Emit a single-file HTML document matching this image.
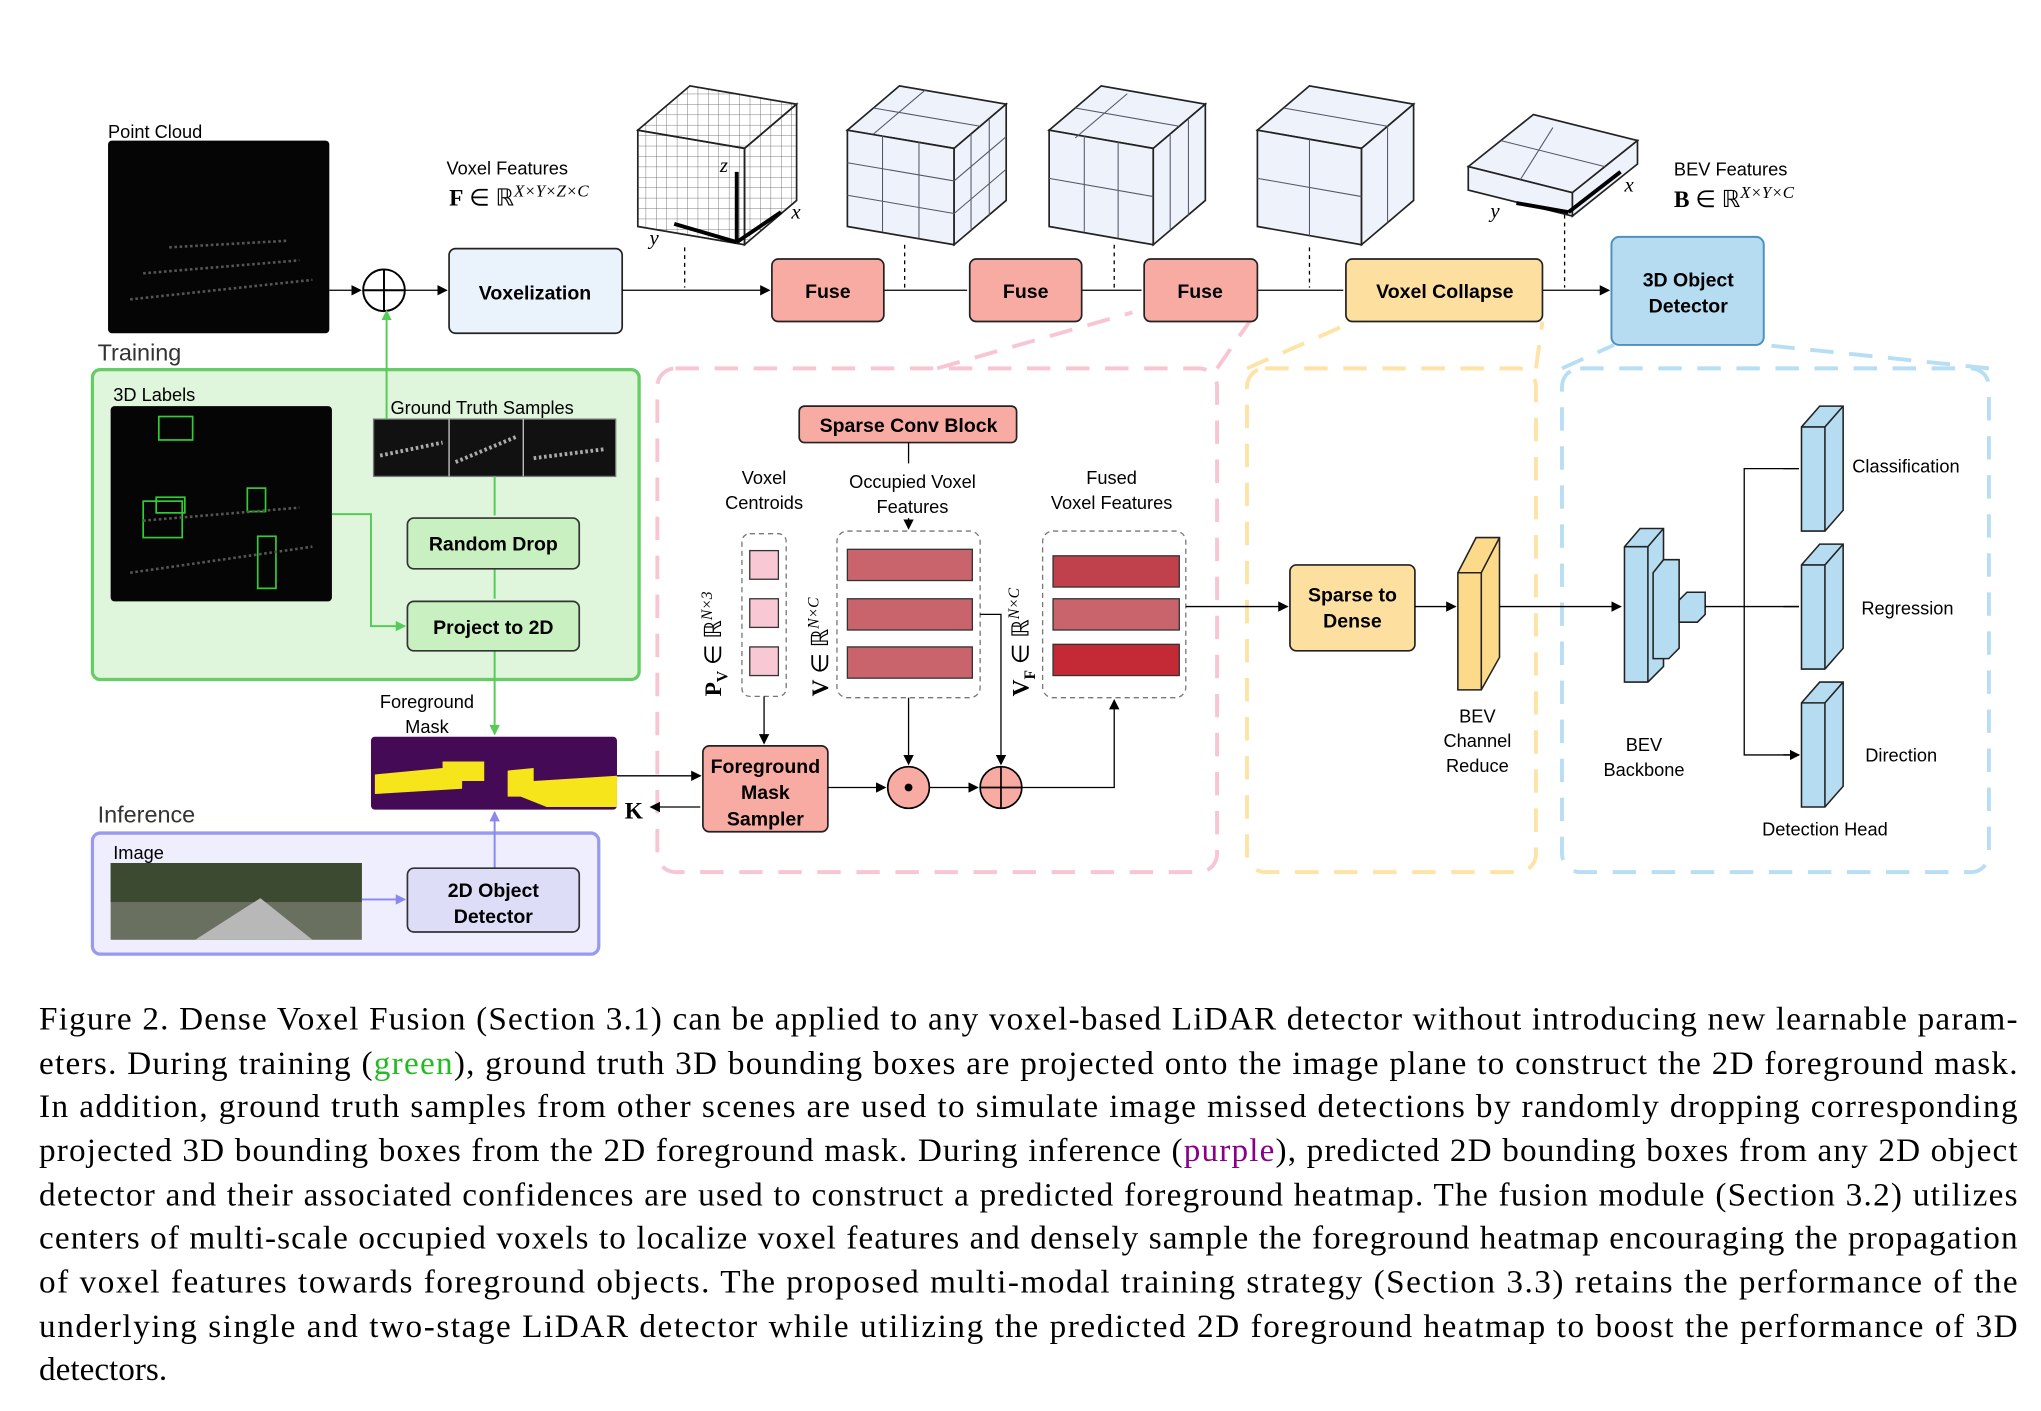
<!DOCTYPE html>
<html><head><meta charset="utf-8"><style>
html,body{margin:0;padding:0;background:#fff;}
svg{display:block}
.s{font-family:"Liberation Sans",sans-serif;}
.b{font-family:"Liberation Sans",sans-serif;font-weight:bold;font-size:15px;}
.cap{font-family:"Liberation Serif",serif;font-size:25.5px;}
</style></head><body>
<svg width="2041" height="1411" viewBox="0 0 1568 1084" xmlns="http://www.w3.org/2000/svg">
<defs>
<marker id="a" markerWidth="8" markerHeight="8" refX="7" refY="4" orient="auto" markerUnits="userSpaceOnUse"><path d="M0,0 L8,4 L0,8 z" fill="#000"/></marker>
<marker id="ag" markerWidth="8" markerHeight="8" refX="7" refY="4" orient="auto" markerUnits="userSpaceOnUse"><path d="M0,0 L8,4 L0,8 z" fill="#5c5"/></marker>
<marker id="ap" markerWidth="8" markerHeight="8" refX="7" refY="4" orient="auto" markerUnits="userSpaceOnUse"><path d="M0,0 L8,4 L0,8 z" fill="#88e"/></marker>
<pattern id="g" width="8" height="8" patternUnits="userSpaceOnUse"><path d="M8,0 L0,0 0,8" fill="none" stroke="#555" stroke-width="0.6"/></pattern>
</defs>
<!-- dashed regions -->
<rect x="505" y="283" width="430" height="387" rx="14" fill="none" stroke="#f7c6d2" stroke-width="3" stroke-dasharray="18,12"/>
<rect x="958" y="283" width="222" height="387" rx="14" fill="none" stroke="#fde3a5" stroke-width="3" stroke-dasharray="18,12"/>
<rect x="1200" y="283" width="328" height="387" rx="14" fill="none" stroke="#b8def3" stroke-width="3" stroke-dasharray="18,12"/>
<path d="M720,283 L870,240" stroke="#f7c6d2" stroke-width="3" stroke-dasharray="18,12"/>
<path d="M935,283 L960,247" stroke="#f7c6d2" stroke-width="3" stroke-dasharray="18,12"/>
<path d="M958,283 L1040,247 M1180,283 L1185,247" stroke="#fde3a5" stroke-width="3" stroke-dasharray="18,12"/>
<path d="M1200,283 L1240,265 M1528,283 L1355,265" stroke="#b8def3" stroke-width="3" stroke-dasharray="18,12"/>
<!-- point cloud -->
<text x="83" y="106" class="s" font-size="14">Point Cloud</text>
<rect x="83" y="108" width="170" height="148" rx="3" fill="#050505"/>
<path d="M100,230 L240,215 M110,210 L230,200 M130,190 L220,185" stroke="#555" stroke-width="2" stroke-dasharray="2,2"/>
<circle cx="295" cy="223" r="16" fill="#fff" stroke="#000" stroke-width="1.5"/>
<path d="M279,223 H311 M295,207 V239" stroke="#000" stroke-width="1.5"/>
<path d="M253,223 H277" stroke="#000" marker-end="url(#a)"/>
<path d="M311,223 H343" stroke="#000" marker-end="url(#a)"/>
<rect x="345" y="191" width="133" height="65" rx="5" fill="#eaf2fb" stroke="#222" stroke-width="1.3"/>
<text x="411" y="230" class="b" text-anchor="middle">Voxelization</text>
<text x="343" y="134" class="s" font-size="14">Voxel Features</text>
<text x="345" y="158" font-family="Liberation Serif,serif" font-size="18"><tspan font-weight="bold">F</tspan> ∈ ℝ<tspan font-style="italic" font-size="13" dy="-7">X×Y×Z×C</tspan></text>
<path d="M478,223 H591" stroke="#000" marker-end="url(#a)"/>
<path d="M679,223 H743 M831,223 H877 M966,223 H1032 M1185,223 H1236" stroke="#000" marker-end="url(#a)"/>
<g fill="#f8aba2" stroke="#222" stroke-width="1.3">
<rect x="593" y="199" width="86" height="48" rx="5"/><rect x="745" y="199" width="86" height="48" rx="5"/><rect x="879" y="199" width="87" height="48" rx="5"/></g>
<text x="636" y="229" class="b" text-anchor="middle">Fuse</text>
<text x="788" y="229" class="b" text-anchor="middle">Fuse</text>
<text x="922" y="229" class="b" text-anchor="middle">Fuse</text>
<rect x="1034" y="199" width="151" height="48" rx="5" fill="#fde0a0" stroke="#222" stroke-width="1.3"/>
<text x="1110" y="229" class="b" text-anchor="middle">Voxel Collapse</text>
<rect x="1238" y="182" width="117" height="83" rx="6" fill="#b5dcf0" stroke="#4a90c0" stroke-width="1.5"/>
<text x="1297" y="220" class="b" text-anchor="middle">3D Object</text>
<text x="1297" y="240" class="b" text-anchor="middle">Detector</text>
<text x="1286" y="135" class="s" font-size="14">BEV Features</text>
<text x="1286" y="159" font-family="Liberation Serif,serif" font-size="18"><tspan font-weight="bold">B</tspan> ∈ ℝ<tspan font-style="italic" font-size="13" dy="-7">X×Y×C</tspan></text>
<!-- cubes -->
<g stroke="#222" stroke-width="1.3">
<path d="M490,100 L530,66 L612,80 L572,114 Z" fill="url(#g)"/><path d="M490,100 L572,114 L572,188 L490,174 Z" fill="url(#g)"/><path d="M572,114 L612,80 L612,154 L572,188 Z" fill="url(#g)"/>
<path d="M651,100 L691,66 L773,80 L733,114 Z" fill="#eef3fb"/><path d="M651,100 L733,114 L733,188 L651,174 Z" fill="#eef3fb"/><path d="M733,114 L773,80 L773,154 L733,188 Z" fill="#eef3fb"/>
<path d="M806,100 L846,66 L926,80 L886,114 Z" fill="#eef3fb"/><path d="M806,100 L886,114 L886,188 L806,174 Z" fill="#eef3fb"/><path d="M886,114 L926,80 L926,154 L886,188 Z" fill="#eef3fb"/>
<path d="M966,100 L1006,66 L1086,80 L1046,114 Z" fill="#eef3fb"/><path d="M966,100 L1046,114 L1046,188 L966,174 Z" fill="#eef3fb"/><path d="M1046,114 L1086,80 L1086,154 L1046,188 Z" fill="#eef3fb"/>
<path d="M1128,128 L1178,88 L1258,108 L1208,148 Z" fill="#eef3fb"/><path d="M1128,128 L1208,148 L1208,166 L1128,146 Z" fill="#eef3fb"/><path d="M1208,148 L1258,108 L1258,126 L1208,166 Z" fill="#eef3fb"/>
</g>
<g stroke="#556" stroke-width="0.8" fill="none">
<path d="M678,104 V178 M706,109 V183 M651,125 L733,139 M651,150 L733,164 M746,103 V177 M760,92 V166 M733,139 L773,105 M733,164 L773,130 M671,83 L753,97 M711,69 L671,103"/>
<path d="M833,104 V178 M859,109 V183 M806,137 L886,151 M899,103 V177 M913,92 V166 M826,83 L906,97 M866,72 L826,106"/>
<path d="M1006,107 V181 M966,137 L1046,151 M1066,97 V171 M986,83 L1066,97"/>
<path d="M1153,108 L1233,128 M1193,98 L1168,138"/>
</g>
<path d="M566,186 V132 M566,186 L600,163 M566,186 L518,172" stroke="#000" stroke-width="3" fill="none"/>
<text x="553" y="132" font-family="Liberation Serif,serif" font-style="italic" font-size="16">z</text>
<text x="608" y="168" font-family="Liberation Serif,serif" font-style="italic" font-size="16">x</text>
<text x="499" y="188" font-family="Liberation Serif,serif" font-style="italic" font-size="16">y</text>
<path d="M1165,156 L1205,163 M1205,163 L1245,132" stroke="#000" stroke-width="3"/>
<text x="1248" y="147" font-family="Liberation Serif,serif" font-style="italic" font-size="16">x</text>
<text x="1145" y="167" font-family="Liberation Serif,serif" font-style="italic" font-size="16">y</text>
<g stroke="#000" stroke-dasharray="3,3"><path d="M526,190 V221 M695,188 V221 M856,188 V221 M1006,190 V221 M1202,165 V221"/></g>
<!-- training -->
<text x="75" y="277" class="s" font-size="18" fill="#333">Training</text>
<rect x="71" y="284" width="420" height="238" rx="6" fill="#dff5dc" stroke="#66cc66" stroke-width="2.5"/>
<text x="87" y="308" class="s" font-size="14">3D Labels</text>
<rect x="85" y="312" width="170" height="150" rx="3" fill="#050505"/>
<g fill="none" stroke="#3c3" stroke-width="1.3"><rect x="122" y="320" width="26" height="18"/><rect x="110" y="385" width="30" height="28"/><rect x="120" y="382" width="22" height="12"/><rect x="190" y="375" width="14" height="18"/><rect x="198" y="412" width="14" height="40"/></g>
<path d="M100,440 L240,420 M110,400 L230,390" stroke="#555" stroke-width="2" stroke-dasharray="2,2"/>
<text x="300" y="318" class="s" font-size="14">Ground Truth Samples</text>
<rect x="287" y="322" width="186" height="44" fill="#111" stroke="#777"/>
<path d="M345,322 V366 M402,322 V366" stroke="#ccc"/>
<path d="M292,350 L340,340 M350,355 L398,335 M410,352 L465,345" stroke="#aaa" stroke-width="3" stroke-dasharray="2,2"/>
<path d="M297,322 V239" stroke="#5c5" stroke-width="1.5" marker-end="url(#ag)"/>
<path d="M380,366 V396 M380,437 V460 M380,500 V564" stroke="#5c5" stroke-width="1.5" marker-end="url(#ag)"/>
<path d="M255,395 H285 V481 H311" stroke="#5c5" stroke-width="1.5" fill="none" marker-end="url(#ag)"/>
<rect x="313" y="398" width="132" height="39" rx="5" fill="#c8f0c0" stroke="#333" stroke-width="1.3"/>
<text x="379" y="423" class="b" text-anchor="middle">Random Drop</text>
<rect x="313" y="462" width="132" height="38" rx="5" fill="#c8f0c0" stroke="#333" stroke-width="1.3"/>
<text x="379" y="487" class="b" text-anchor="middle">Project to 2D</text>
<text x="328" y="544" class="s" font-size="14" text-anchor="middle">Foreground</text>
<text x="328" y="563" class="s" font-size="14" text-anchor="middle">Mask</text>
<rect x="285" y="566" width="189" height="56" rx="3" fill="#440a55"/>
<path d="M288,595 L340,590 L340,585 L372,585 L372,600 L355,600 L355,606 L288,610 Z M390,592 L410,590 L410,600 L474,596 L474,620 L420,620 L400,612 L390,612 Z" fill="#f5e51a"/>
<path d="M474,596 H538" stroke="#000" marker-end="url(#a)"/>
<path d="M538,620 H500" stroke="#000" marker-end="url(#a)"/>
<text x="480" y="629" font-family="Liberation Serif,serif" font-weight="bold" font-size="18">K</text>
<!-- inference -->
<text x="75" y="632" class="s" font-size="18" fill="#333">Inference</text>
<rect x="71" y="640" width="389" height="93" rx="6" fill="#eeeeff" stroke="#9999ee" stroke-width="2.5"/>
<text x="87" y="660" class="s" font-size="14">Image</text>
<rect x="85" y="663" width="193" height="59" fill="#6a7060"/>
<rect x="85" y="663" width="193" height="30" fill="#3c4a32"/>
<path d="M150,722 L200,690 L240,722 Z" fill="#b8b8b8"/>
<path d="M278,691 H311" stroke="#88e" stroke-width="1.5" marker-end="url(#ap)"/>
<path d="M380,667 V624" stroke="#88e" stroke-width="1.5" marker-end="url(#ap)"/>
<rect x="313" y="667" width="132" height="49" rx="5" fill="#ddddf8" stroke="#333" stroke-width="1.3"/>
<text x="379" y="689" class="b" text-anchor="middle">2D Object</text>
<text x="379" y="709" class="b" text-anchor="middle">Detector</text>
<!-- fusion module -->
<rect x="614" y="312" width="167" height="28" rx="4" fill="#f8aba2" stroke="#222" stroke-width="1.3"/>
<text x="698" y="332" class="b" text-anchor="middle">Sparse Conv Block</text>
<path d="M698,340 V356" stroke="#000"/>
<text x="587" y="372" class="s" font-size="14" text-anchor="middle">Voxel</text>
<text x="587" y="391" class="s" font-size="14" text-anchor="middle">Centroids</text>
<text x="701" y="375" class="s" font-size="14" text-anchor="middle">Occupied Voxel</text>
<text x="701" y="394" class="s" font-size="14" text-anchor="middle">Features</text>
<path d="M698,398 V406" stroke="#000" marker-end="url(#a)"/>
<text x="854" y="372" class="s" font-size="14" text-anchor="middle">Fused</text>
<text x="854" y="391" class="s" font-size="14" text-anchor="middle">Voxel Features</text>
<g fill="none" stroke="#777" stroke-dasharray="4,3"><rect x="570" y="410" width="34" height="125" rx="6"/><rect x="643" y="408" width="110" height="128" rx="8"/><rect x="801" y="408" width="110" height="128" rx="8"/></g>
<g stroke="#333" fill="#f8c8d4"><rect x="576" y="423" width="22" height="22"/><rect x="576" y="460" width="22" height="22"/><rect x="576" y="497" width="22" height="22"/></g>
<g stroke="#333" fill="#c9646c"><rect x="651" y="422" width="96" height="24"/><rect x="651" y="460" width="96" height="24"/><rect x="651" y="497" width="96" height="24"/></g>
<g stroke="#333"><rect x="809" y="427" width="97" height="24" fill="#c0404c"/><rect x="809" y="460" width="97" height="24" fill="#c9646c"/><rect x="809" y="495" width="97" height="24" fill="#c42a35"/></g>
<g font-family="Liberation Serif,serif" font-size="18" font-weight="bold">
<text transform="translate(554,535) rotate(-90)">P<tspan font-size="12" dy="5">V</tspan><tspan dy="-5" font-weight="normal"> ∈ ℝ</tspan><tspan font-size="12" dy="-7" font-style="italic" font-weight="normal">N×3</tspan></text>
<text transform="translate(636,535) rotate(-90)">V<tspan font-weight="normal"> ∈ ℝ</tspan><tspan font-size="12" dy="-7" font-style="italic" font-weight="normal">N×C</tspan></text>
<text transform="translate(790,535) rotate(-90)">V<tspan font-size="12" dy="5">F</tspan><tspan dy="-5" font-weight="normal"> ∈ ℝ</tspan><tspan font-size="12" dy="-7" font-style="italic" font-weight="normal">N×C</tspan></text>
</g>
<path d="M587,535 V571" stroke="#000" marker-end="url(#a)"/>
<rect x="540" y="573" width="96" height="66" rx="5" fill="#f8aba2" stroke="#222" stroke-width="1.3"/>
<text x="588" y="594" class="b" text-anchor="middle">Foreground</text>
<text x="588" y="614" class="b" text-anchor="middle">Mask</text>
<text x="588" y="634" class="b" text-anchor="middle">Sampler</text>
<path d="M636,605 H680" stroke="#000" marker-end="url(#a)"/>
<circle cx="698" cy="605" r="16" fill="#f8aba2" stroke="#000" stroke-width="1.3"/><circle cx="698" cy="605" r="3" fill="#000"/>
<path d="M698,536 V587" stroke="#000" marker-end="url(#a)"/>
<path d="M714,605 H751" stroke="#000" marker-end="url(#a)"/>
<circle cx="769" cy="605" r="16" fill="#f8aba2" stroke="#000" stroke-width="1.3"/><path d="M753,605 H785 M769,589 V621" stroke="#000" stroke-width="1.3"/>
<path d="M753,472 H769 V587" stroke="#000" fill="none" marker-end="url(#a)"/>
<path d="M785,605 H856 V538" stroke="#000" fill="none" marker-end="url(#a)"/>
<path d="M911,466 H989" stroke="#000" marker-end="url(#a)"/>
<!-- yellow -->
<rect x="991" y="434" width="96" height="66" rx="5" fill="#fde0a0" stroke="#222" stroke-width="1.3"/>
<text x="1039" y="462" class="b" text-anchor="middle">Sparse to</text>
<text x="1039" y="482" class="b" text-anchor="middle">Dense</text>
<path d="M1087,466 H1118" stroke="#000" marker-end="url(#a)"/>
<path d="M1120,440 L1134,413 L1152,413 L1152,505 L1138,530 L1120,530 Z" fill="#fdd98a" stroke="#222" stroke-width="1.2"/>
<path d="M1120,440 H1138 L1152,413 M1138,440 V530" fill="none" stroke="#222" stroke-width="1.2"/>
<text x="1135" y="555" class="s" font-size="14" text-anchor="middle">BEV</text>
<text x="1135" y="574" class="s" font-size="14" text-anchor="middle">Channel</text>
<text x="1135" y="593" class="s" font-size="14" text-anchor="middle">Reduce</text>
<path d="M1152,466 H1245" stroke="#000" marker-end="url(#a)"/>
<!-- blue -->
<g fill="#b5dcf0" stroke="#222" stroke-width="1.2">
<path d="M1248,420 L1260,406 H1278 V512 L1266,524 H1248 Z"/><path d="M1248,420 H1266 L1278,406 M1266,420 V524" fill="none"/>
<path d="M1270,440 L1278,430 H1290 V498 L1282,506 H1270 Z"/>
<path d="M1290,461 L1296,455 H1310 V472 L1304,478 H1290 Z"/>
<path d="M1384,328 L1398,312 H1416 V392 L1402,408 H1384 Z"/><path d="M1384,328 H1402 L1416,312 M1402,328 V408" fill="none"/>
<path d="M1384,434 L1398,418 H1416 V498 L1402,514 H1384 Z"/><path d="M1384,434 H1402 L1416,418 M1402,434 V514" fill="none"/>
<path d="M1384,540 L1398,524 H1416 V604 L1402,620 H1384 Z"/><path d="M1384,540 H1402 L1416,524 M1402,540 V620" fill="none"/>
</g>
<path d="M1310,466 H1382 M1340,466 V360 H1382 M1340,466 V580 H1382" stroke="#000" fill="none"/>
<path d="M1370,360 H1382 M1370,466 H1382 M1370,580 H1382" stroke="#000" marker-end="url(#a)"/>
<text x="1263" y="577" class="s" font-size="14" text-anchor="middle">BEV</text>
<text x="1263" y="596" class="s" font-size="14" text-anchor="middle">Backbone</text>
<text x="1423" y="363" class="s" font-size="14">Classification</text>
<text x="1430" y="472" class="s" font-size="14">Regression</text>
<text x="1433" y="585" class="s" font-size="14">Direction</text>
<text x="1402" y="642" class="s" font-size="14" text-anchor="middle">Detection Head</text>
<!-- caption -->
<g class="cap">
<text x="30" y="791" textLength="1520" lengthAdjust="spacing">Figure 2. Dense Voxel Fusion (Section 3.1) can be applied to any voxel-based LiDAR detector without introducing new learnable param-</text>
<text x="30" y="825" textLength="1520" lengthAdjust="spacing">eters. During training (<tspan fill="#2b2">green</tspan>), ground truth 3D bounding boxes are projected onto the image plane to construct the 2D foreground mask.</text>
<text x="30" y="858" textLength="1520" lengthAdjust="spacing">In addition, ground truth samples from other scenes are used to simulate image missed detections by randomly dropping corresponding</text>
<text x="30" y="892" textLength="1520" lengthAdjust="spacing">projected 3D bounding boxes from the 2D foreground mask. During inference (<tspan fill="#808">purple</tspan>), predicted 2D bounding boxes from any 2D object</text>
<text x="30" y="926" textLength="1520" lengthAdjust="spacing">detector and their associated confidences are used to construct a predicted foreground heatmap. The fusion module (Section 3.2) utilizes</text>
<text x="30" y="959" textLength="1520" lengthAdjust="spacing">centers of multi-scale occupied voxels to localize voxel features and densely sample the foreground heatmap encouraging the propagation</text>
<text x="30" y="993" textLength="1520" lengthAdjust="spacing">of voxel features towards foreground objects. The proposed multi-modal training strategy (Section 3.3) retains the performance of the</text>
<text x="30" y="1027" textLength="1520" lengthAdjust="spacing">underlying single and two-stage LiDAR detector while utilizing the predicted 2D foreground heatmap to boost the performance of 3D</text>
<text x="30" y="1060">detectors.</text>
</g>
</svg>
</body></html>
